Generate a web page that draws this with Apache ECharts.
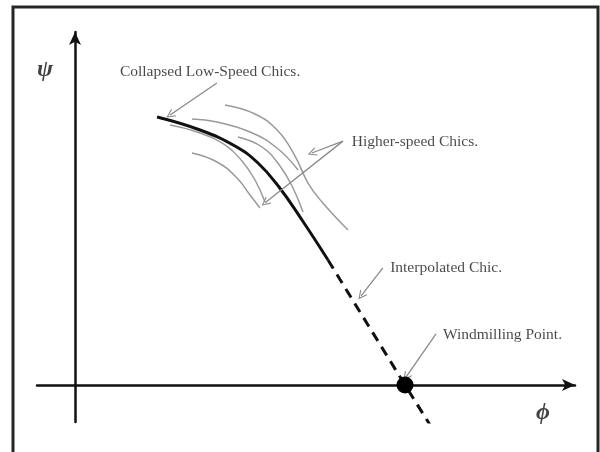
<!DOCTYPE html>
<html>
<head>
<meta charset="utf-8">
<script src="https://cdn.jsdelivr.net/npm/echarts@6/dist/echarts.min.js"></script>
<style>
  html, body { margin: 0; padding: 0; background: #fff; overflow: hidden; }
  #chart { width: 600px; height: 452px; }
</style>
</head>
<body>
<div id="chart"></div>
<script>
// Axis ranges (phi, psi in arbitrary units; windmilling point at phi = 1)
const phiRange = [-0.1152, 1.5152];
const psiRange = [-0.1121, 1.0697];

// Collapsed low-speed characteristic (solid, thick)
const collapsedChic = [
  [0.2485, 0.8121], [0.3788, 0.7727], [0.4848, 0.7242], [0.5545, 0.6727],
  [0.6182, 0.6000], [0.6879, 0.5000], [0.7667, 0.3788]
];
// Interpolated characteristic (dashed)
const interpolatedChic = [
  [0.7667, 0.3788], [1.0, 0.0], [1.094, -0.150]
];
// Higher-speed characteristics (thin grey)
const speedChicA = [[0.3545, 0.7030], [0.4303, 0.6758], [0.4909, 0.6273], [0.5303, 0.5758], [0.5606, 0.5364]];
const speedChicB = [[0.2879, 0.7879], [0.3788, 0.7636], [0.4545, 0.7273], [0.5061, 0.6788], [0.5455, 0.6212], [0.5758, 0.5545]];
const speedChicC = [[0.4545, 0.8485], [0.5455, 0.8212], [0.6152, 0.7697], [0.6667, 0.6939], [0.7061, 0.6121], [0.7485, 0.5545], [0.8273, 0.4697]];
const speedChicD = [[0.3545, 0.8061], [0.4303, 0.7970], [0.5303, 0.7667], [0.6121, 0.7182], [0.6758, 0.6515]];
const speedChicE = [[0.4939, 0.7515], [0.5667, 0.7212], [0.6212, 0.6636], [0.6606, 0.5970], [0.6909, 0.5242]];
// Windmilling point
const windmillPoint = [1.0, 0.0];

// Annotation arrows [from, to]
const arrows = [
  [[0.430, 0.915], [0.288, 0.818]],
  [[0.812, 0.739], [0.718, 0.703]],
  [[0.812, 0.739], [0.576, 0.552]],
  [[0.933, 0.355], [0.867, 0.270]],
  [[1.094, 0.155], [1.003, 0.024]]
];
// Annotation texts
const noteTexts = ['Collapsed Low-Speed Chics.', 'Higher-speed Chics.', 'Interpolated Chic.', 'Windmilling Point.'];
const notePositions = [[0.136, 0.948], [0.839, 0.736], [0.955, 0.355], [1.115, 0.152]];
// Axis symbols
const axisNames = ['ψ', 'ϕ'];
const axisNamePositions = [[-0.091, 0.955], [1.418, -0.085]];

const chart = echarts.init(document.getElementById('chart'), null, { renderer: 'canvas' });

const greyStyle = { color: '#9a9a9a', width: 1.5 };
function greyLine(data) {
  return {
    type: 'line', data: data, smooth: 0.45, showSymbol: false, silent: true,
    lineStyle: greyStyle, z: 2
  };
}

const option = {
  animation: false,
  backgroundColor: '#ffffff',
  grid: { left: 37, right: 25, top: 32, bottom: 30 },
  xAxis: {
    type: 'value', min: phiRange[0], max: phiRange[1],
    axisLine: { show: true, onZero: true, symbol: ['none', 'arrow'], symbolSize: [9, 13],
      lineStyle: { color: '#111', width: 2.5 } },
    axisTick: { show: false }, axisLabel: { show: false }, splitLine: { show: false }
  },
  yAxis: {
    type: 'value', min: psiRange[0], max: psiRange[1],
    axisLine: { show: true, onZero: true, symbol: ['none', 'arrow'], symbolSize: [9, 13],
      lineStyle: { color: '#111', width: 2.5 } },
    axisTick: { show: false }, axisLabel: { show: false }, splitLine: { show: false }
  },
  graphic: [{
    type: 'rect', shape: { x: 13, y: 7, width: 585, height: 500 },
    style: { fill: 'none', stroke: '#262626', lineWidth: 3 }, silent: true
  }],
  series: [
    greyLine(speedChicA), greyLine(speedChicB), greyLine(speedChicC),
    greyLine(speedChicD), greyLine(speedChicE),
    {
      type: 'line', data: collapsedChic, smooth: 0.45, showSymbol: false, silent: true,
      lineStyle: { color: '#111', width: 3 }, z: 3
    },
    {
      type: 'line', data: interpolatedChic, showSymbol: false, silent: true,
      lineStyle: { color: '#111', width: 3, type: [10, 7] }, z: 3
    },
    {
      type: 'lines', coordinateSystem: 'cartesian2d', silent: true, z: 4,
      symbol: ['none', 'path://M5,0 L10,10 L8.6,10 L5,2.6 L1.4,10 L0,10 Z'],
      symbolSize: 9,
      lineStyle: { color: '#8a8a8a', width: 1.3, opacity: 1 },
      data: arrows.map(a => ({ coords: a }))
    },
    {
      type: 'scatter', data: [windmillPoint], symbol: 'circle', symbolSize: 17,
      itemStyle: { color: '#000', opacity: 1 }, silent: true, z: 5
    },
    {
      type: 'scatter', silent: true, symbolSize: 0, z: 6,
      data: noteTexts.map((t, i) => ({ value: notePositions[i], name: t })),
      label: {
        show: true, position: 'right', distance: 0, formatter: p => p.name,
        fontFamily: '"Liberation Serif", "Times New Roman", serif', fontSize: 15.5, color: '#1a1a1a'
      }
    },
    {
      type: 'scatter', silent: true, symbolSize: 0, z: 6,
      data: axisNames.map((t, i) => ({ value: axisNamePositions[i], name: t })),
      label: {
        show: true, position: 'inside', formatter: p => p.name,
        fontFamily: '"Liberation Serif", "DejaVu Serif", serif', fontSize: 24,
        fontWeight: 'bold', fontStyle: 'italic', color: '#111'
      }
    }
  ]
};
chart.setOption(option);
</script>
</body>
</html>
